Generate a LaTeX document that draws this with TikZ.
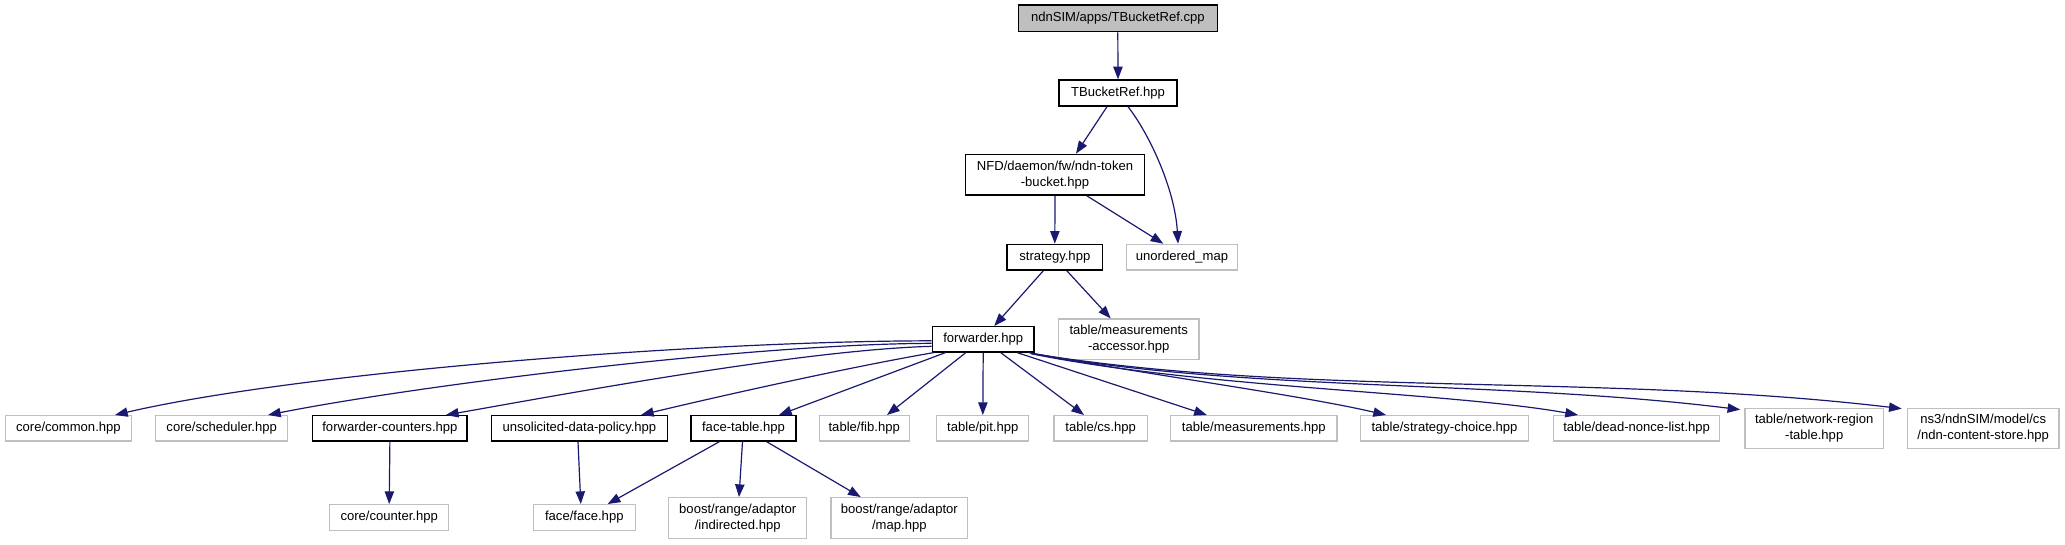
\documentclass[tikz,border=0pt]{standalone}
\usepackage{fontspec}
\setmainfont{Liberation Sans}
\usetikzlibrary{arrows.meta,calc}
\definecolor{edgeblue}{HTML}{191970}
\definecolor{grey75}{HTML}{BFBFBF}
\tikzset{
  fbox/.style={draw=black, line width=1pt, inner sep=0pt, align=center,
    font=\fontsize{9.8}{12}\selectfont},
  xbox/.style={fbox, draw=grey75},
  wh/.style 2 args={minimum width=#1*0.75pt, minimum height=#2*0.75pt},
  dep/.style={draw=edgeblue, line width=0.9pt, -{Triangle[length=9.5pt,width=7pt]}},
}
\begin{document}
\begin{tikzpicture}[x=0.75pt,y=-0.75pt]
\useasboundingbox (0,0) rectangle (2065,544);
% level 0-2
\node[fbox, fill=grey75, wh={199}{26.7}] (cpp) at (1117.8,18.3) {ndnSIM/apps/TBucketRef.cpp};
\node[fbox, wh={118}{26}] (tbr) at (1118,93) {TBucketRef.hpp};
\node[fbox, wh={178.6}{40.7}] (tkb) at (1055,174.7) {NFD/daemon/fw/ndn-token\\-bucket.hpp};
\node[fbox, wh={95.7}{25.7}] (strat) at (1054.8,257.2) {strategy.hpp};
\node[xbox, wh={110.6}{25.7}] (umap) at (1182,257.2) {unordered\_map};
\node[fbox, wh={101.7}{25.3}] (fwd) at (983.2,339.3) {forwarder.hpp};
\node[xbox, wh={140.7}{40.3}] (macc) at (1128.7,339.2) {table/measurements\\-accessor.hpp};
% row 3
\node[xbox, wh={126}{25.3}] (common) at (68.4,428.3) {core/common.hpp};
\node[xbox, wh={132}{25.3}] (sched) at (221.7,428.3) {core/scheduler.hpp};
\node[fbox, wh={154.3}{25.3}] (fcnt) at (389.9,428.3) {forwarder-counters.hpp};
\node[fbox, wh={176}{25.3}] (udp) at (579.4,428.3) {unsolicited-data-policy.hpp};
\node[fbox, wh={105}{25.3}] (ftab) at (743.5,428.3) {face-table.hpp};
\node[xbox, wh={90}{25.3}] (fib) at (864.2,428.3) {table/fib.hpp};
\node[xbox, wh={92}{25.3}] (pit) at (982.8,428.3) {table/pit.hpp};
\node[xbox, wh={93.7}{25.3}] (cs) at (1100.7,428.3) {table/cs.hpp};
\node[xbox, wh={166.4}{25.3}] (meas) at (1253.8,428.3) {table/measurements.hpp};
\node[xbox, wh={167.6}{25.3}] (sc) at (1444.5,428.3) {table/strategy-choice.hpp};
\node[xbox, wh={166.4}{25.3}] (dnl) at (1636.6,428.3) {table/dead-nonce-list.hpp};
\node[xbox, wh={138.6}{40.4}] (nrt) at (1814.2,428.5) {table/network-region\\-table.hpp};
\node[xbox, wh={151.7}{40.4}] (cstore) at (1983.2,428.5) {ns3/ndnSIM/model/cs\\/ndn-content-store.hpp};
% row 4
\node[xbox, wh={119}{25.6}] (counter) at (389.2,517.5) {core/counter.hpp};
\node[xbox, wh={102}{25.6}] (face) at (584.3,517.5) {face/face.hpp};
\node[xbox, wh={138}{40.6}] (indir) at (737.7,518) {boost/range/adaptor\\/indirected.hpp};
\node[xbox, wh={136.6}{40.6}] (map) at (899.3,518) {boost/range/adaptor\\/map.hpp};
% edges top
\draw[dep] (cpp.south) -- (tbr.north);
\draw[dep] ($(tbr.south)+(-11,0)$) -- ($(tkb.north)+(21,0)$);
\draw[dep] ($(tbr.south)+(10,0)$) .. controls (1150,135) and (1175,190) .. ($(umap.north)+(-4,0)$);
\draw[dep] (tkb.south) -- (strat.north);
\draw[dep] ($(tkb.south)+(31.7,0)$) -- ($(umap.north)+(-18.7,0)$);
\draw[dep] ($(strat.south)+(-11.5,0)$) -- ($(fwd.north)+(11,0)$);
\draw[dep] ($(strat.south)+(12,0)$) -- ($(macc.north)+(-18,0)$);
% forwarder edges
\draw[dep] ($(fwd.west)+(0,1.5)$) .. controls (700,341) and (300,372) .. ($(common.north)+(46.6,0)$);
\draw[dep] ($(fwd.west)+(0,4)$) .. controls (750,344) and (420,385) .. ($(sched.north)+(46.3,0)$);
\draw[dep] ($(fwd.west)+(0,7)$) .. controls (800,350) and (560,395) .. ($(fcnt.north)+(56,0)$);
\draw[dep] ($(fwd.south west)+(2,0)$) .. controls (850,367) and (720,396) .. ($(udp.north)+(61.6,0)$);
\draw[dep] ($(fwd.south west)+(13.7,0)$) -- ($(ftab.north)+(35.5,0)$);
\draw[dep] ($(fwd.south)+(-17.4,0)$) -- ($(fib.north)+(22.8,0)$);
\draw[dep] (fwd.south) -- (pit.north);
\draw[dep] ($(fwd.south)+(17.5,0)$) -- ($(cs.north)+(-16.7,0)$);
\draw[dep] ($(fwd.south)+(34,0)$) -- ($(meas.north)+(-47,0)$);
\draw[dep] ($(fwd.south east)+(-6,0)$) .. controls (1150,375) and (1300,395) .. ($(sc.north)+(-58.5,0)$);
\draw[dep] ($(fwd.south east)+(-4,1)$) .. controls (1200,388) and (1450,392) .. ($(dnl.north)+(-58.6,0)$);
\draw[dep] ($(fwd.south east)+(-3,1)$) .. controls (1250,392) and (1500,380) .. ($(nrt.north west)+(-4,2)$);
\draw[dep] ($(fwd.south east)+(-2,1)$) .. controls (1300,397) and (1600,373) .. ($(cstore.north west)+(-5,1)$);
% row 3 -> row 4
\draw[dep] (fcnt.south) -- (counter.north);
\draw[dep] ($(udp.south)+(-1.4,0)$) -- ($(face.north)+(-3.5,0)$);
\draw[dep] ($(ftab.south)+(-24,0)$) -- ($(face.north)+(23.4,0)$);
\draw[dep] ($(ftab.south)+(-1,0)$) -- ($(indir.north)+(1.3,0)$);
\draw[dep] ($(ftab.south)+(23,0)$) -- ($(map.north)+(-38.6,0)$);
\end{tikzpicture}
\end{document}
